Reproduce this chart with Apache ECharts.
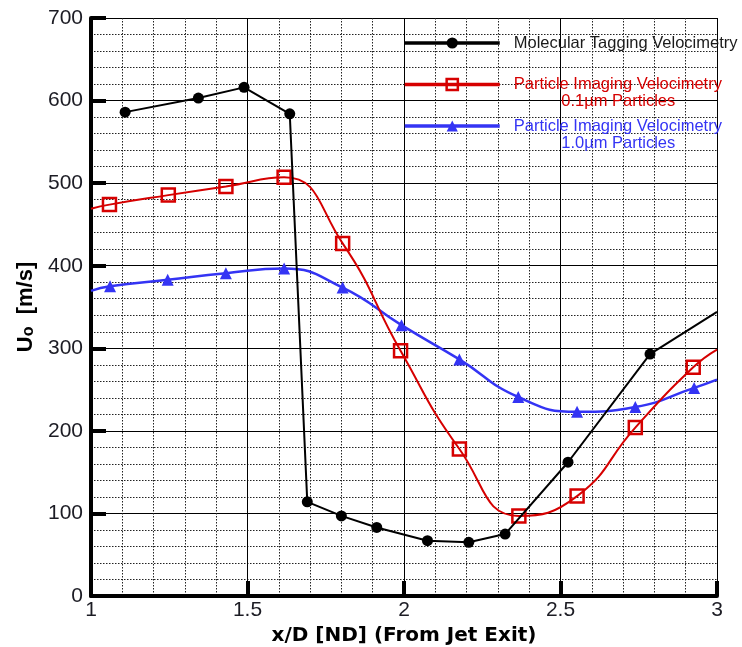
<!DOCTYPE html>
<html>
<head>
<meta charset="utf-8">
<script src="https://cdn.jsdelivr.net/npm/echarts@6/dist/echarts.min.js"></script>
<style>
  html, body { margin: 0; padding: 0; background: #fff; }
  #chart { width: 742px; height: 647px; }
</style>
</head>
<body>
<div id="chart"></div>
<script>
// Jet centreline velocity U_o against downstream distance x/D,
// measured by three techniques.

// Molecular Tagging Velocimetry
const mtvX = [1.109, 1.343, 1.489, 1.635, 1.691, 1.800, 1.913, 2.075, 2.207, 2.323, 2.524, 2.786, 3.0];
const mtvY = [586, 603, 616, 584, 114, 97, 83, 67, 65, 75, 162, 293, 344];

// Particle Imaging Velocimetry, 0.1 µm particles
const piv01X = [1.0, 1.059, 1.247, 1.431, 1.617, 1.804, 1.989, 2.177, 2.367, 2.553, 2.739, 2.924, 3.0];
const piv01Y = [469, 474, 485.5, 496, 507, 427, 297, 178, 97, 121, 204, 277, 298.5];

// Particle Imaging Velocimetry, 1.0 µm particles
const piv10X = [1.0, 1.061, 1.245, 1.431, 1.617, 1.804, 1.992, 2.177, 2.365, 2.553, 2.739, 2.927, 3.0];
const piv10Y = [369.5, 375, 383, 391, 396.5, 373.5, 328, 286.5, 241, 223, 229, 252, 262];

// Axis ranges and tick labels
const xRange = [1, 3];
const yRange = [0, 700];
const xTickStep = 0.5;
const yTickStep = 100;

const seriesNames = [
  'Molecular Tagging Velocimetry',
  'Particle Imaging Velocimetry 0.1µm Particles',
  'Particle Imaging Velocimetry 1.0µm Particles'
];
const legendLines = [
  ['Molecular Tagging Velocimetry'],
  ['Particle Imaging Velocimetry', '0.1µm Particles'],
  ['Particle Imaging Velocimetry', '1.0µm Particles']
];

const FONT = '"Liberation Sans", Arial, Helvetica, sans-serif';
const TITLE_FONT = '"DejaVu Sans", "Liberation Sans", Arial, sans-serif';
const BLACK = '#000000';
const RED = '#d60000';
const BLUE = '#3434f4';

// Points lying on the plot frame are where a curve leaves the axes: no marker there.
function toData(xs, ys) {
  return xs.map((x, i) => {
    const item = { value: [x, ys[i]] };
    if (x <= xRange[0] || x >= xRange[1]) item.symbol = 'none';
    return item;
  });
}

const chart = echarts.init(document.getElementById('chart'), null, { renderer: 'canvas' });

function legendFor(idx, top, color, itemStyle) {
  const lines = legendLines[idx];
  const twoLine = lines.length > 1;
  const rich = {
    a: { fontFamily: FONT, fontSize: 16.5, color: color, lineHeight: 17, width: 209, align: 'left' },
    b: { fontFamily: FONT, fontSize: 16.5, color: color, lineHeight: 17, width: 209, align: 'center' }
  };
  return {
    data: [seriesNames[idx]],
    orient: 'vertical',
    left: 403,
    top: top,
    padding: 0,
    itemGap: 0,
    itemWidth: 95,
    itemHeight: 14,
    selectedMode: false,
    lineStyle: { width: 3.5 },
    itemStyle: itemStyle,
    textStyle: {
      fontFamily: FONT,
      fontSize: 16.5,
      color: color,
      lineHeight: 17,
      padding: twoLine ? [17, 0, 0, 9] : [0, 0, 0, 9],
      rich: rich
    },
    formatter: function () {
      return twoLine
        ? '{a|' + lines[0] + '}\n{b|' + lines[1] + '}'
        : '{a|' + lines[0] + '}';
    }
  };
}

const option = {
  animation: false,
  backgroundColor: '#ffffff',
  grid: { left: 91, right: 25, top: 18, bottom: 51, containLabel: false, outerBoundsMode: 'none' },
  xAxis: {
    type: 'value',
    min: xRange[0],
    max: xRange[1],
    interval: xTickStep,
    name: 'x/D [ND] (From Jet Exit)',
    nameLocation: 'middle',
    nameGap: 24,
    nameTextStyle: { fontFamily: TITLE_FONT, fontSize: 20, fontWeight: 'bold', color: BLACK },
    axisLine: { show: true, onZero: false, lineStyle: { color: BLACK, width: 4 } },
    axisTick: { show: true, inside: true, length: 15, lineStyle: { color: BLACK, width: 4 } },
    minorTick: { show: false, splitNumber: 5 },
    axisLabel: {
      fontFamily: FONT, fontSize: 21, color: '#1c1c24', margin: 4,
      formatter: v => String(+v.toFixed(1))
    },
    splitLine: { show: true, lineStyle: { color: BLACK, width: 1 } },
    minorSplitLine: { show: true, lineStyle: { color: '#222', width: 1, type: [1.5, 1.5] } }
  },
  yAxis: {
    type: 'value',
    min: yRange[0],
    max: yRange[1],
    interval: yTickStep,
    name: '{u|U}{s|o}{u|  [m/s]}',
    nameLocation: 'middle',
    nameGap: 53,
    nameTextStyle: {
      color: BLACK,
      rich: {
        u: { fontFamily: FONT, fontSize: 22, fontWeight: 'bold', color: BLACK, lineHeight: 22 },
        s: { fontFamily: FONT, fontSize: 16, fontWeight: 'bold', color: BLACK, lineHeight: 16,
             padding: [22, 0, 0, 0], verticalAlign: 'bottom' }
      }
    },
    axisLine: { show: true, onZero: false, lineStyle: { color: BLACK, width: 4 } },
    axisTick: { show: true, inside: true, length: 15, lineStyle: { color: BLACK, width: 4 } },
    minorTick: { show: false, splitNumber: 5 },
    axisLabel: { fontFamily: FONT, fontSize: 21, color: '#1c1c24', margin: 8 },
    splitLine: { show: true, lineStyle: { color: BLACK, width: 1 } },
    minorSplitLine: { show: true, lineStyle: { color: '#222', width: 1, type: [1.5, 1.5] } }
  },
  legend: [
    legendFor(0, 34.5, '#1a1a1a', { borderWidth: 0 }),
    legendFor(1, 59, RED, { borderWidth: 2.5 }),
    legendFor(2, 100.5, BLUE, { borderWidth: 0 })
  ],
  series: [
    {
      name: seriesNames[2],
      type: 'line',
      data: toData(piv10X, piv10Y),
      smooth: 0.5,
      symbol: 'triangle',
      symbolSize: 12,
      lineStyle: { color: BLUE, width: 2.5 },
      itemStyle: { color: BLUE },
      clip: true,
      z: 2
    },
    {
      name: seriesNames[1],
      type: 'line',
      data: toData(piv01X, piv01Y),
      smooth: 0.5,
      symbol: 'rect',
      symbolSize: 13,
      lineStyle: { color: RED, width: 2 },
      itemStyle: { color: 'rgba(255,255,255,0)', borderColor: RED, borderWidth: 2.5 },
      clip: true,
      z: 3
    },
    {
      name: seriesNames[0],
      type: 'line',
      data: toData(mtvX, mtvY),
      smooth: false,
      symbol: 'circle',
      symbolSize: 11,
      lineStyle: { color: BLACK, width: 2 },
      itemStyle: { color: BLACK },
      clip: true,
      z: 4
    }
  ]
};

chart.setOption(option);
</script>
</body>
</html>
